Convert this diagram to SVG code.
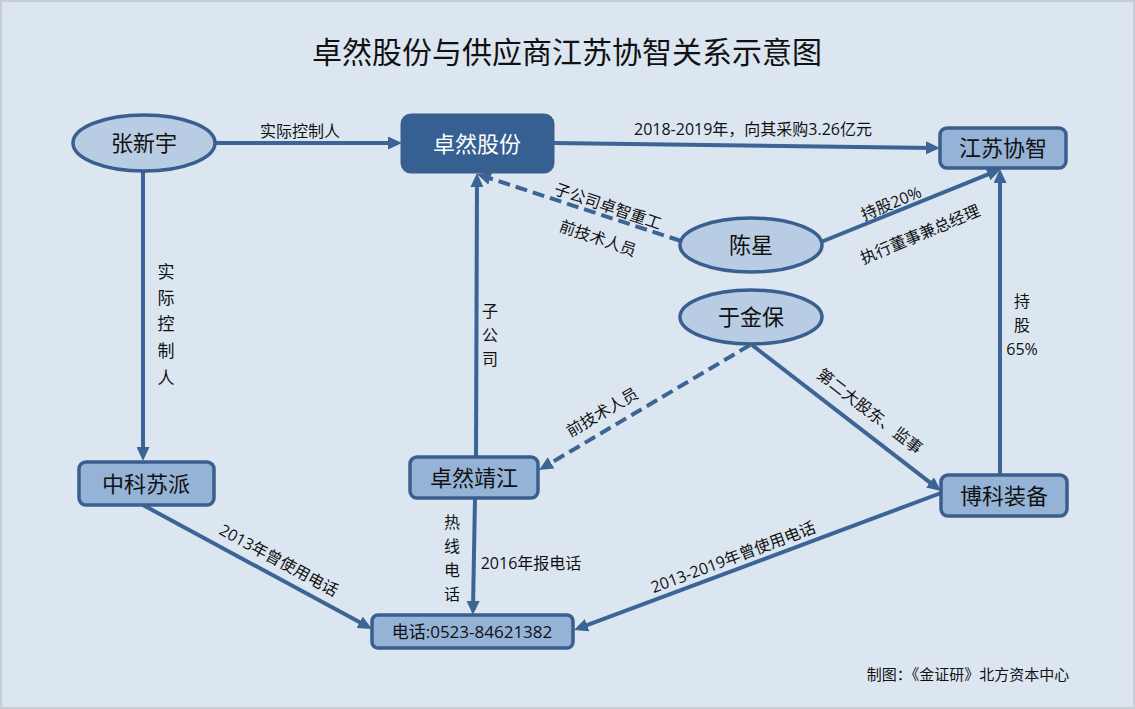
<svg xmlns="http://www.w3.org/2000/svg" width="1135" height="709" viewBox="0 0 1135 709">
<style>
.bg{fill:#DCE6F1;stroke:#C9CDD4;stroke-width:2}
.ell{fill:#B8CCE4;stroke:#3A5F8E;stroke-width:3.5}
.box{fill:#95B3D7;stroke:#3A5F8E;stroke-width:3.5}
.dark{fill:#366092;stroke:#3A5F8E;stroke-width:3}
.ln{fill:none;stroke:#3C6494;stroke-width:4}
.dash{stroke-dasharray:12 6}
text{font-family:"Noto Sans CJK SC","Noto Sans",sans-serif;fill:#111}
.nt{font-size:22px;text-anchor:middle}
.lb{font-size:16px;text-anchor:middle}
.lat{font-family:"Open Sans","Noto Sans CJK SC",sans-serif}
</style>
<defs>
<marker id="arr" markerUnits="userSpaceOnUse" markerWidth="15" markerHeight="13" refX="8" refY="6.5" orient="auto">
<path d="M0,0 L14,6.5 L0,13 z" fill="#3C6494"/>
</marker>
</defs>
<rect class="bg" x="1" y="1" width="1133" height="707"/>
<text x="567" y="63" style="font-size:30px;text-anchor:middle">卓然股份与供应商江苏协智关系示意图</text>

<g id="connectors">
<line class="ln" x1="215" y1="143" x2="396" y2="143" marker-end="url(#arr)"/>
<line class="ln" x1="143" y1="172" x2="143" y2="455" marker-end="url(#arr)"/>
<line class="ln" x1="553" y1="143" x2="934" y2="147.9" marker-end="url(#arr)"/>
<line class="ln" x1="821" y1="242" x2="995.4" y2="171.3" marker-end="url(#arr)"/>
<line class="ln dash" x1="681" y1="241" x2="482.7" y2="175.9" marker-end="url(#arr)"/>
<line class="ln" x1="476" y1="457" x2="477" y2="179" marker-end="url(#arr)"/>
<line class="ln" x1="1000" y1="475" x2="1000" y2="175" marker-end="url(#arr)"/>
<line class="ln dash" x1="750" y1="345" x2="544.2" y2="466.9" marker-end="url(#arr)"/>
<line class="ln" x1="752" y1="345" x2="936.3" y2="487.3" marker-end="url(#arr)"/>
<line class="ln" x1="143" y1="505" x2="366.7" y2="626.1" marker-end="url(#arr)"/>
<line class="ln" x1="475" y1="498" x2="473" y2="609" marker-end="url(#arr)"/>
<line class="ln" x1="941" y1="493" x2="579.6" y2="627.9" marker-end="url(#arr)"/>

<text class="lb" x="300" y="137">实际控制人</text>
<text class="lb" x="166" style="font-size:17px"><tspan x="166" y="278">实</tspan><tspan x="166" y="304">际</tspan><tspan x="166" y="330">控</tspan><tspan x="166" y="357">制</tspan><tspan x="166" y="384">人</tspan></text>
<text class="lb lat" x="753" y="135">2018-2019年，向其采购3.26亿元</text>
<text class="lb" transform="translate(608,206) rotate(18.8)" x="0" y="6">子公司卓智重工</text>
<text class="lb" transform="translate(598,238) rotate(18.8)" x="0" y="6">前技术人员</text>
<text class="lb lat" transform="translate(891,203) rotate(-22.6)" x="0" y="6">持股20%</text>
<text class="lb" transform="translate(920,234) rotate(-22.6)" x="0" y="6">执行董事兼总经理</text>
<text class="lb"><tspan x="490" y="317">子</tspan><tspan x="490" y="341">公</tspan><tspan x="490" y="365">司</tspan></text>
<text class="lb lat"><tspan x="1022" y="307">持</tspan><tspan x="1022" y="331">股</tspan><tspan x="1022" y="355">65%</tspan></text>
<text class="lb" transform="translate(602,412) rotate(-30.4)" x="0" y="6">前技术人员</text>
<text class="lb" transform="translate(870,411) rotate(37.7)" x="0" y="6">第二大股东、监事</text>
<text class="lb lat" transform="translate(279,560) rotate(28.6)" x="0" y="6">2013年曾使用电话</text>
<text class="lb"><tspan x="452" y="528">热</tspan><tspan x="452" y="552">线</tspan><tspan x="452" y="576">电</tspan><tspan x="452" y="600">话</tspan></text>
<text class="lb lat" x="531" y="569">2016年报电话</text>
<text class="lb lat" transform="translate(733,557) rotate(-20.6)" x="0" y="6">2013-2019年曾使用电话</text>
</g>

<g id="n-zhangxinyu"><ellipse class="ell" cx="144" cy="143" rx="71" ry="28"/><text class="nt" x="144" y="151">张新宇</text></g>
<g id="n-zhuoran"><rect class="dark" x="402" y="115" width="151" height="57" rx="9"/><text class="nt" x="477" y="152" style="fill:#fff">卓然股份</text></g>
<g id="n-jiangsuxiezhi"><rect class="box" x="940" y="128" width="126" height="40" rx="7"/><text class="nt" x="1003" y="156">江苏协智</text></g>
<g id="n-chenxing"><ellipse class="ell" cx="751" cy="245" rx="71" ry="27"/><text class="nt" x="751" y="253">陈星</text></g>
<g id="n-yujinbao"><ellipse class="ell" cx="751" cy="317" rx="71" ry="27"/><text class="nt" x="751" y="325">于金保</text></g>
<g id="n-zhongkesupai"><rect class="box" x="79" y="462" width="135" height="43" rx="7"/><text class="nt" x="146" y="492">中科苏派</text></g>
<g id="n-zhuoranjingjiang"><rect class="box" x="410" y="457" width="128" height="41" rx="7"/><text class="nt" x="474" y="486">卓然靖江</text></g>
<g id="n-bokezhuangbei"><rect class="box" x="941" y="475" width="126" height="41" rx="7"/><text class="nt" x="1004" y="504">博科装备</text></g>
<g id="n-phone"><rect class="box" x="372" y="615" width="201" height="33" rx="6"/><text class="lat" x="472" y="638" style="font-size:17px;text-anchor:middle">电话:0523-84621382</text></g>

<text x="968" y="680" style="font-size:15px;text-anchor:middle">制图：《金证研》北方资本中心</text>
</svg>
